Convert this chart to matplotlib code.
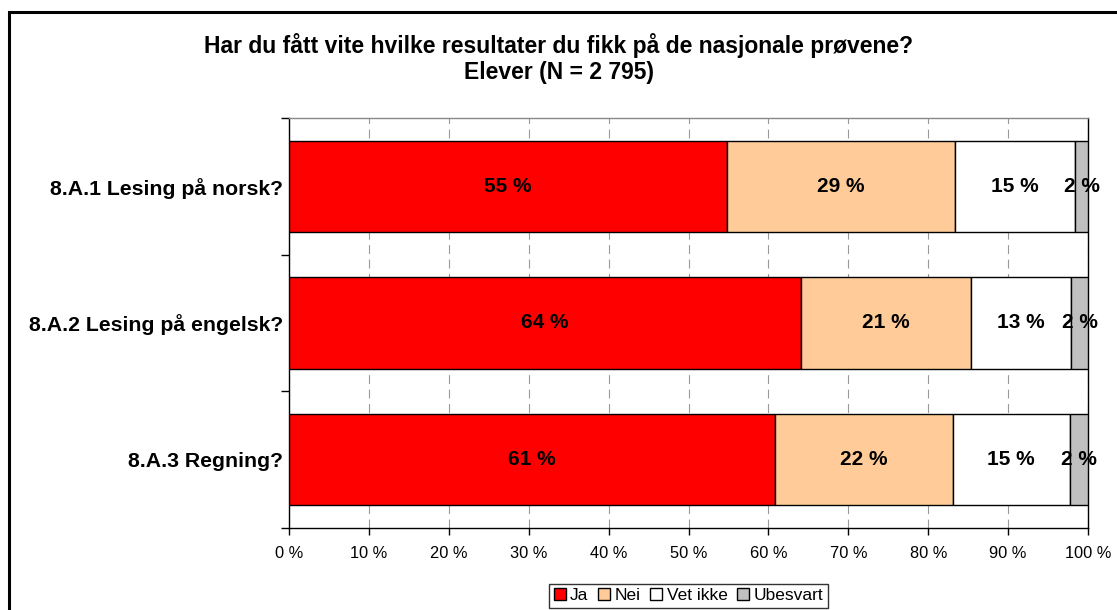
import numpy as np
import matplotlib.pyplot as plt
from matplotlib.patches import Rectangle
from matplotlib.ticker import FixedLocator

plt.rcParams['font.family'] = ['Liberation Sans', 'DejaVu Sans']

# data (prosent)
categories = ["8.A.1 Lesing på norsk?", "8.A.2 Lesing på engelsk?", "8.A.3 Regning?"]
series = ["Ja", "Nei", "Vet ikke", "Ubesvart"]
ja = [54.8, 64.1, 60.8]
nei = [28.6, 21.2, 22.3]
vet_ikke = [15.0, 12.6, 14.6]
ubesvart = [1.6, 2.1, 2.3]
colors = ["#FF0000", "#FFCC99", "#FFFFFF", "#C0C0C0"]

fig = plt.figure(figsize=(11.17, 6.10), dpi=100)
ax = fig.add_axes([289 / 1117, 1 - 528 / 610, (1088 - 289) / 1117, (528 - 118) / 610])

# outer chart frame (right and bottom edges fall outside the picture)
fig.patches.append(Rectangle((9 / 1117, -0.05), 1.1, 1 - 12 / 610 + 0.05,
                             transform=fig.transFigure, fill=False,
                             edgecolor="black", linewidth=2.2))

y = np.arange(len(categories))
left = np.zeros(len(categories))
for name, vals, col in zip(series, [ja, nei, vet_ikke, ubesvart], colors):
    vals = np.array(vals)
    bars = ax.barh(y, vals, left=left, height=0.67, color=col,
                   edgecolor="black", linewidth=1.0, label=name, zorder=3)
    for b, v in zip(bars, vals):
        ax.text(b.get_x() + b.get_width() / 2, b.get_y() + b.get_height() / 2,
                f"{v:.0f} %", ha="center", va="center", fontsize=15,
                fontweight="bold", zorder=4)
    left += vals

ax.set_xlim(0, 100)
ax.set_ylim(2.5, -0.5)
ax.set_xticks(np.arange(0, 101, 10))
ax.set_xticklabels([f"{t} %" for t in range(0, 101, 10)], fontsize=11.8)
ax.set_yticks(y)
ax.set_yticklabels(categories, fontsize=15.3, fontweight="bold")
ax.tick_params(axis="y", which="major", length=0, pad=4)
ax.yaxis.set_minor_locator(FixedLocator([-0.5, 0.5, 1.5, 2.5]))
ax.tick_params(axis="y", which="minor", length=6, width=1, direction="out")
ax.tick_params(axis="x", length=5, width=1, direction="out", pad=8)

ax.grid(axis="x", color="#999999", linestyle=(0, (8, 5)), linewidth=0.8, zorder=0)
for s in ["left", "bottom", "right"]:
    ax.spines[s].set_color("black")
ax.spines["top"].set_color("#888888")
for s in ax.spines.values():
    s.set_linewidth(1.0)

fig.text(0.5, 1 - 45 / 610, "Har du fått vite hvilke resultater du fikk på de nasjonale prøvene?",
         ha="center", va="center", fontsize=16.5, fontweight="bold")
fig.text(0.5, 1 - 73 / 610, "Elever (N = 2 795)",
         ha="center", va="center", fontsize=16.5, fontweight="bold")

leg = ax.legend(loc="center", bbox_to_anchor=(0.5, -0.165), ncol=4, fontsize=12.5,
                frameon=True, fancybox=False, edgecolor="black",
                handlelength=0.7, handleheight=0.7, handletextpad=0.25,
                columnspacing=0.55, borderpad=0.25, borderaxespad=0)
leg.get_frame().set_linewidth(1.0)

fig.savefig("out.png", dpi=100)
